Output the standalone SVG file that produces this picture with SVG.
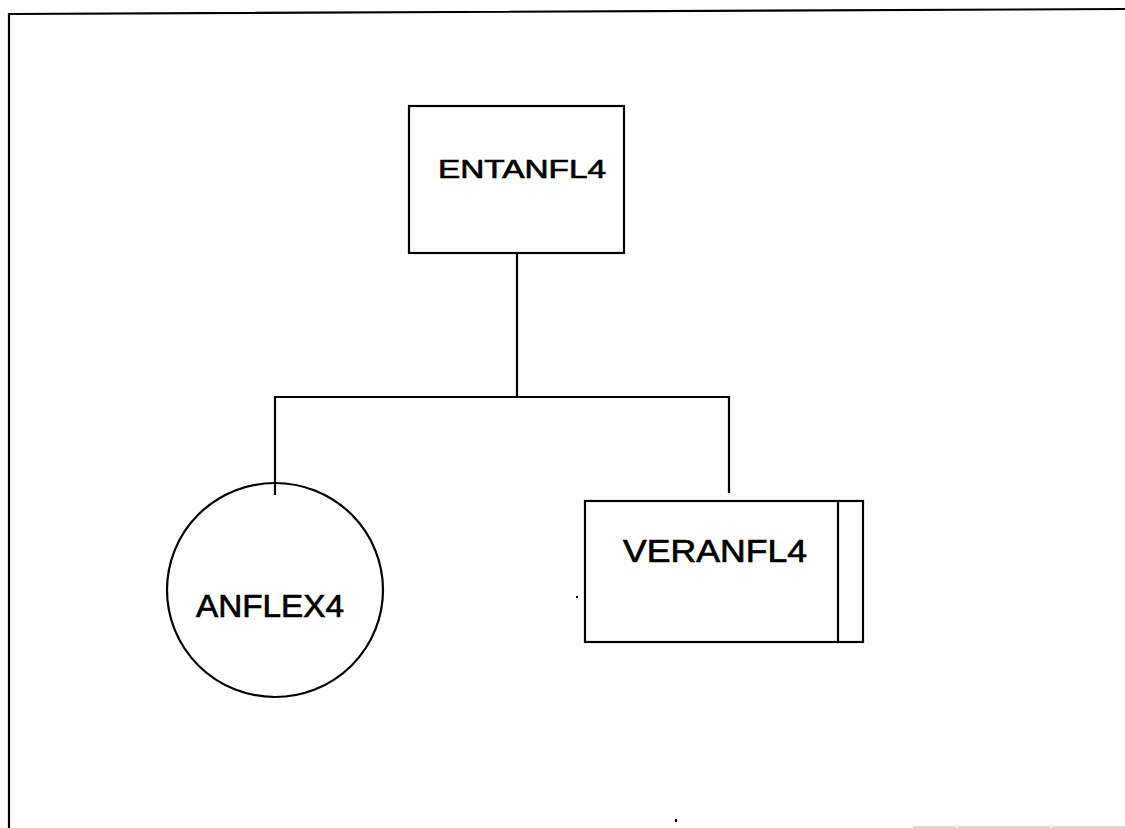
<svg xmlns="http://www.w3.org/2000/svg" width="1125" height="828" viewBox="0 0 1125 828">
<style>
.box{fill:#fff;stroke:#000;stroke-width:2.2}
.ln{fill:none;stroke:#000;stroke-width:2.2}
.lbl{font-family:"Liberation Sans",Arial,sans-serif;fill:#000;stroke:#000;stroke-width:0.7}
</style>
<rect width="1125" height="828" fill="#fff"/>
<g id="frame">
<path d="M9,828 L9,14 L1125,9" class="ln" stroke-width="3"/>
<path d="M913,827 H956 M958,827 H1050 M1052,827 H1125" fill="none" stroke="#d8d8d8" stroke-width="2"/>
<rect x="675" y="819" width="2" height="3" fill="#000"/>
<rect x="576" y="596" width="2" height="2" fill="#000"/>
</g>
<g id="connectors">
<line x1="517" y1="253" x2="517" y2="397" class="ln" stroke-width="3"/>
<path d="M275,495 L275,397 L729,397 L729,493" class="ln"/>
</g>
<g id="ENTANFL4">
<rect x="409" y="106" width="215" height="147" class="box"/>
<text x="438" y="178" class="lbl" font-size="26" textLength="168" lengthAdjust="spacingAndGlyphs">ENTANFL4</text>
</g>
<g id="ANFLEX4">
<ellipse cx="275" cy="590" rx="108" ry="107" class="box"/>
<line x1="275" y1="482" x2="275" y2="495" class="ln"/>
<text x="196" y="617" class="lbl" font-size="32" textLength="148" lengthAdjust="spacingAndGlyphs">ANFLEX4</text>
</g>
<g id="VERANFL4">
<rect x="585" y="501" width="278" height="141" class="box"/>
<line x1="838" y1="501" x2="838" y2="642" class="ln"/>
<text x="623" y="562" class="lbl" font-size="32" textLength="184" lengthAdjust="spacingAndGlyphs">VERANFL4</text>
</g>
</svg>
